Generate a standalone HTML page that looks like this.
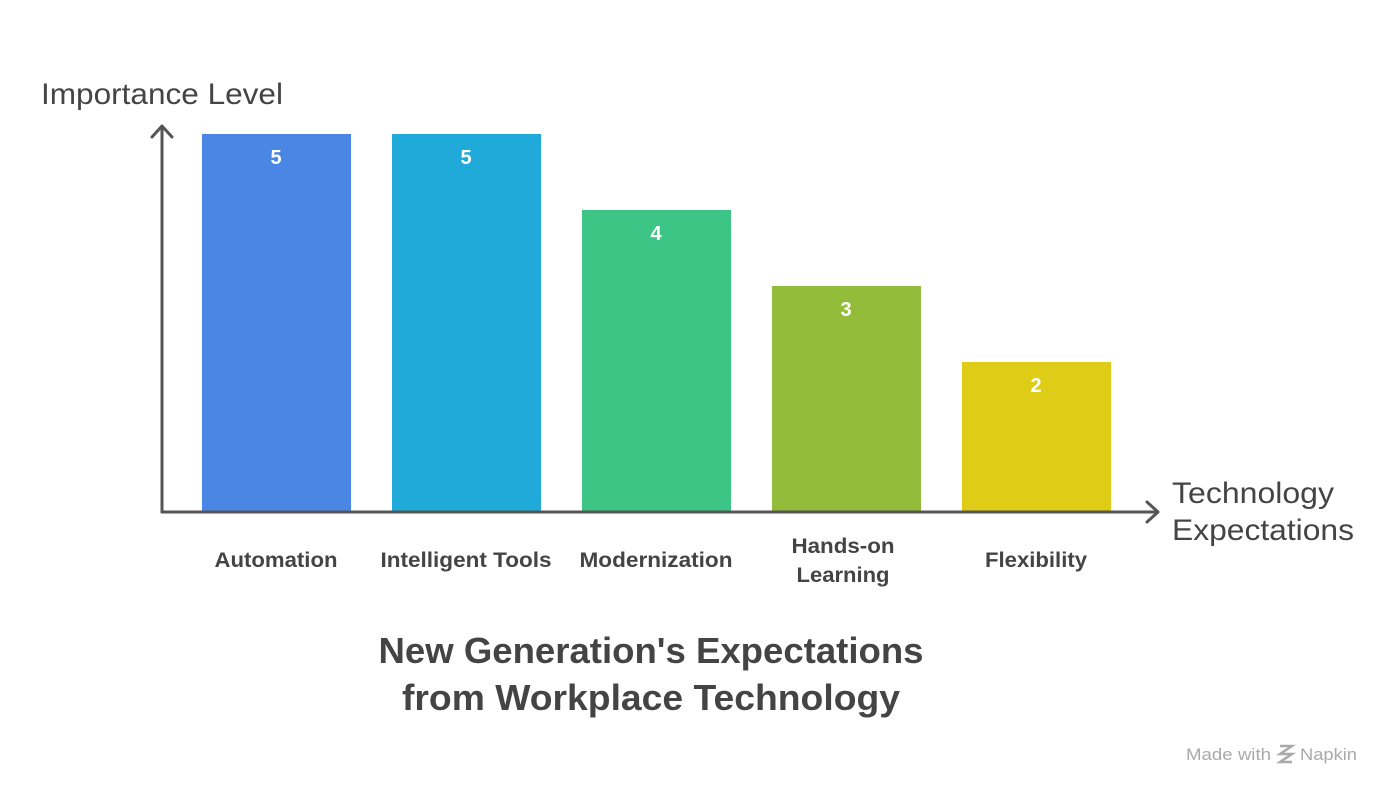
<!DOCTYPE html>
<html><head><meta charset="utf-8"><style>
body{margin:0;background:#fff;width:1396px;height:798px;overflow:hidden;font-family:"Liberation Sans",Arial,sans-serif}
</style></head><body>
<svg width="1396" height="798" xmlns="http://www.w3.org/2000/svg" font-family="Liberation Sans, Arial, sans-serif">
<rect x="202" y="134" width="149" height="378" fill="#4A87E5"/>
<rect x="392" y="134" width="149" height="378" fill="#20AAD9"/>
<rect x="582" y="210" width="149" height="302" fill="#3DC585"/>
<rect x="772" y="286" width="149" height="226" fill="#93BC3A"/>
<rect x="962" y="362" width="149" height="150" fill="#DECC17"/>
<g fill="#fff" font-weight="bold" font-size="20" text-anchor="middle">
<text x="276" y="164">5</text><text x="466" y="164">5</text><text x="656" y="240">4</text><text x="846" y="316">3</text><text x="1036" y="392">2</text>
</g>
<g stroke="#555" stroke-width="3" fill="none" stroke-linecap="round" stroke-linejoin="round">
<path d="M162 512 V127"/><path d="M152 137 L162 126 L172 137"/>
<path d="M162 512 H1157"/><path d="M1147 502 L1158 512 L1147 522"/>
</g>
<text x="41" y="104" font-size="30" fill="#444" textLength="242" lengthAdjust="spacingAndGlyphs">Importance Level</text>
<text x="1172" y="503" font-size="30" fill="#444" textLength="162" lengthAdjust="spacingAndGlyphs">Technology</text>
<text x="1172" y="540" font-size="30" fill="#444" textLength="182" lengthAdjust="spacingAndGlyphs">Expectations</text>
<g fill="#444" font-weight="bold" font-size="21" text-anchor="middle" lengthAdjust="spacingAndGlyphs">
<text x="276" y="567" textLength="123" lengthAdjust="spacingAndGlyphs">Automation</text>
<text x="466" y="567" textLength="171" lengthAdjust="spacingAndGlyphs">Intelligent Tools</text>
<text x="656" y="567" textLength="153" lengthAdjust="spacingAndGlyphs">Modernization</text>
<text x="843" y="553" textLength="103" lengthAdjust="spacingAndGlyphs">Hands-on</text><text x="843" y="582" textLength="93" lengthAdjust="spacingAndGlyphs">Learning</text>
<text x="1036" y="567" textLength="102" lengthAdjust="spacingAndGlyphs">Flexibility</text>
</g>
<g fill="#444" font-weight="bold" font-size="36" text-anchor="middle">
<text x="651" y="663" textLength="545" lengthAdjust="spacingAndGlyphs">New Generation's Expectations</text>
<text x="651" y="710" textLength="498" lengthAdjust="spacingAndGlyphs">from Workplace Technology</text>
</g>
<text x="1186" y="760" font-size="17" fill="#aaa" textLength="85" lengthAdjust="spacingAndGlyphs">Made with</text>
<path d="M1280 746 l12 0 l-12 8 l12 0 l-12 8 l12 0" stroke="#aaa" stroke-width="2.5" fill="none"/>
<text x="1300" y="760" font-size="17" fill="#aaa" textLength="57" lengthAdjust="spacingAndGlyphs">Napkin</text>
</svg>
</body></html>
